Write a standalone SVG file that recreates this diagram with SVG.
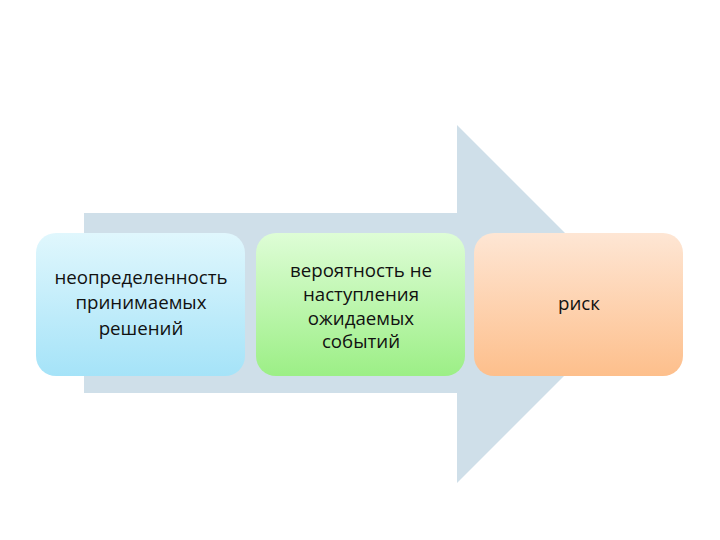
<svg xmlns="http://www.w3.org/2000/svg" width="720" height="540" viewBox="0 0 720 540">
<defs>
<linearGradient id="gb" x1="0" y1="0" x2="0" y2="1"><stop offset="0" stop-color="#e0f7fd"/><stop offset="1" stop-color="#a5e3f8"/></linearGradient>
<linearGradient id="gg" x1="0" y1="0" x2="0" y2="1"><stop offset="0" stop-color="#defdd6"/><stop offset="1" stop-color="#9cef86"/></linearGradient>
<linearGradient id="go" x1="0" y1="0" x2="0" y2="1"><stop offset="0" stop-color="#fee6d4"/><stop offset="1" stop-color="#fdbf8c"/></linearGradient>
<style>
text{font-family:"Open Sans","Noto Sans",sans-serif;font-size:18.7px;fill:#111111;text-anchor:middle}
</style>
</defs>
<rect width="720" height="540" fill="#ffffff"/>
<g id="connectors">
<polygon points="84,213 457,213 457,125 636,304 457,483 457,393 84,393" fill="#cfdfe9"/>
</g>
<g id="node1">
<rect x="36" y="233" width="209" height="143" rx="20" fill="url(#gb)"/>
<text x="141" y="284">неопределенность</text>
<text x="141" y="309">принимаемых</text>
<text x="141" y="335">решений</text>
</g>
<g id="node2">
<rect x="256" y="233" width="209" height="143" rx="20" fill="url(#gg)"/>
<text x="361" y="277">вероятность не</text>
<text x="361" y="301">наступления</text>
<text x="361" y="325">ожидаемых</text>
<text x="361" y="348">событий</text>
</g>
<g id="node3">
<rect x="474" y="233" width="209" height="143" rx="20" fill="url(#go)"/>
<text x="579" y="310">риск</text>
</g>
</svg>
